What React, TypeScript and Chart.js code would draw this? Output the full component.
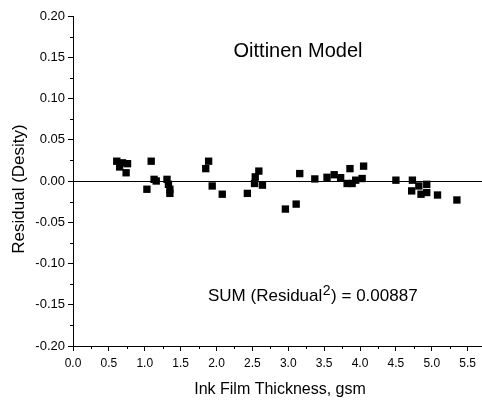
import React, { useEffect, useRef } from "react";
import { Chart, registerables } from "chart.js";

Chart.register(...registerables);

const X_VALUES = [
  0.61, 0.69, 0.76, 0.65, 0.74,
  1.09, 1.03, 1.13, 1.16, 1.31, 1.33, 1.35, 1.35,
  1.85, 1.89, 1.94, 2.08,
  2.43, 2.53, 2.54, 2.59, 2.64,
  2.96, 3.11, 3.16,
  3.37, 3.54, 3.64, 3.73, 3.82, 3.86, 3.89, 3.94, 4.03, 4.05,
  4.5, 4.73, 4.82, 4.72, 4.85, 4.93, 4.93, 5.08, 5.35,
];
const RESIDUALS = [
  0.024, 0.022, 0.021, 0.017, 0.01,
  0.024, -0.01, 0.002, 0.0, 0.002, -0.004, -0.01, -0.015,
  0.015, 0.024, -0.006, -0.016,
  -0.015, -0.003, 0.005, 0.012, -0.005,
  -0.034, -0.028, 0.009,
  0.0025, 0.0045, 0.0076, 0.004, -0.003, 0.015, -0.003, 0.001, 0.003, 0.018,
  0.001, 0.001, -0.006, -0.012, -0.016, -0.004, -0.014, -0.017, -0.023,
];
const X_TICKS = [0, 0.5, 1, 1.5, 2, 2.5, 3, 3.5, 4, 4.5, 5, 5.5];
const Y_TICKS = [-0.2, -0.15, -0.1, -0.05, 0, 0.05, 0.1, 0.15, 0.2];
const TITLE = "Oittinen Model";
const X_TITLE = "Ink Film Thickness, gsm";
const Y_TITLE = "Residual (Desity)";
const SUM_PREFIX = "SUM (Residual";
const SUM_SUP = "2";
const SUM_SUFFIX = ") = 0.00887";

const FONT = "'Liberation Sans', Arial, sans-serif";

const overlay = {
  id: "overlay",
  afterDraw(chart: any) {
    const { ctx, chartArea, scales } = chart;
    const x = scales.x;
    const y = scales.y;
    ctx.save();
    ctx.strokeStyle = "#000";
    ctx.lineWidth = 1;
    // minor ticks
    ctx.beginPath();
    for (let i = 0; i < X_TICKS.length; i++) {
      const v = X_TICKS[i] + 0.25;
      if (v > x.max) continue;
      const px = Math.round(x.getPixelForValue(v)) + 0.5;
      ctx.moveTo(px, chartArea.bottom);
      ctx.lineTo(px, chartArea.bottom + 3);
    }
    for (let i = 0; i < Y_TICKS.length - 1; i++) {
      const v = Y_TICKS[i] + 0.025;
      const py = Math.round(y.getPixelForValue(v)) + 0.5;
      ctx.moveTo(chartArea.left, py);
      ctx.lineTo(chartArea.left - 3, py);
    }
    ctx.stroke();

    ctx.fillStyle = "#000";
    ctx.textBaseline = "alphabetic";
    // chart title
    ctx.font = `20px ${FONT}`;
    ctx.textAlign = "center";
    ctx.fillText(TITLE, 298, 57);
    // x title
    ctx.font = `16px ${FONT}`;
    ctx.fillText(X_TITLE, 280, 394);
    // y title
    ctx.save();
    ctx.translate(24, 189);
    ctx.rotate(-Math.PI / 2);
    ctx.font = `17px ${FONT}`;
    ctx.fillText(Y_TITLE, 0, 0);
    ctx.restore();
    // sum text
    ctx.textAlign = "left";
    ctx.font = `17px ${FONT}`;
    let sx = 208;
    const sy = 301;
    ctx.fillText(SUM_PREFIX, sx, sy);
    sx += ctx.measureText(SUM_PREFIX).width;
    ctx.font = `14px ${FONT}`;
    ctx.fillText(SUM_SUP, sx + 0.5, sy - 6);
    sx += ctx.measureText(SUM_SUP).width + 1;
    ctx.font = `17px ${FONT}`;
    ctx.fillText(SUM_SUFFIX, sx, sy);
    ctx.restore();
  },
};

export default function App() {
  const canvasRef = useRef<HTMLCanvasElement | null>(null);

  useEffect(() => {
    document.body.style.margin = "0";
    const canvas = canvasRef.current;
    if (!canvas) return;
    const chart = new Chart(canvas, {
      type: "scatter",
      data: {
        datasets: [
          {
            data: X_VALUES.map((xv, i) => ({ x: xv, y: RESIDUALS[i] })),
            pointStyle: "rect",
            pointRadius: 5.2,
            pointHoverRadius: 5.2,
            backgroundColor: "#000",
            borderWidth: 0,
          },
        ],
      },
      options: {
        animation: false,
        responsive: false,
        maintainAspectRatio: false,
        layout: { autoPadding: false, padding: { top: 16, right: 0, left: 0, bottom: 0 } },
        plugins: {
          legend: { display: false },
          tooltip: { enabled: false },
          title: { display: false },
        },
        scales: {
          x: {
            type: "linear",
            min: 0,
            max: 5.7,
            afterBuildTicks: (scale: any) => {
              scale.ticks = X_TICKS.map((v) => ({ value: v }));
            },
            afterFit: (scale: any) => {
              scale.height = 62;
              scale.paddingRight = 0;
              scale.paddingLeft = 0;
            },
            ticks: {
              includeBounds: false,
              color: "#000",
              font: { family: FONT, size: 12 },
              padding: 5,
              maxRotation: 0,
              autoSkip: false,
              callback: (v: any) => Number(v).toFixed(1),
            },
            grid: {
              drawOnChartArea: false,
              drawTicks: true,
              tickLength: 5,
              tickColor: "#000",
              color: "#000",
            },
            border: { display: true, color: "#000", width: 1 },
          },
          y: {
            type: "linear",
            min: -0.2,
            max: 0.2,
            afterBuildTicks: (scale: any) => {
              scale.ticks = Y_TICKS.map((v) => ({ value: v }));
            },
            afterFit: (scale: any) => {
              scale.width = 73;
              scale.paddingTop = 0;
              scale.paddingBottom = 0;
            },
            ticks: {
              color: "#000",
              font: { family: FONT, size: 13 },
              padding: 3,
              autoSkip: false,
              callback: (v: any) => Number(v).toFixed(2),
            },
            grid: {
              drawOnChartArea: true,
              drawTicks: true,
              tickLength: 5,
              tickColor: "#000",
              color: (c: any) => (c.tick && Math.abs(c.tick.value) < 1e-9 ? "#000" : "rgba(0,0,0,0)"),
            },
            border: { display: true, color: "#000", width: 1 },
          },
        },
      },
      plugins: [overlay],
    });
    return () => chart.destroy();
  }, []);

  return (
    <div style={{ width: 482, height: 408 }}>
      <canvas ref={canvasRef} width={482} height={408} style={{ display: "block" }} />
    </div>
  );
}
